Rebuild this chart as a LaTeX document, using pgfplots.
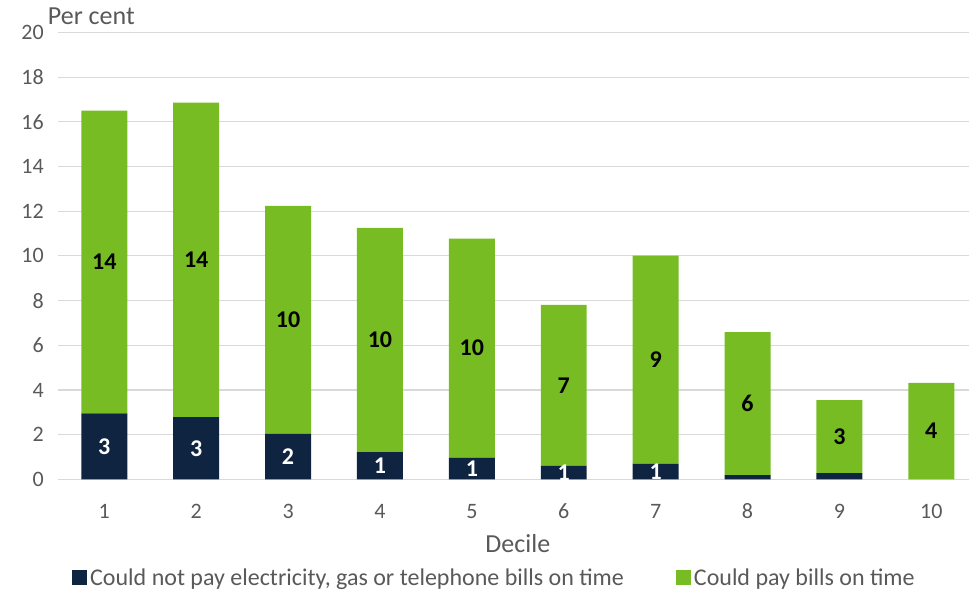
\documentclass[border=0pt]{standalone}
\usepackage{pgfplots}
\pgfplotsset{compat=1.18}
\usepackage{pgfplotstable}
\usepackage{fontspec}
\setmainfont{Carlito}

\definecolor{navy}{HTML}{0E2441}
\definecolor{leaf}{HTML}{78BC23}
\definecolor{gridgray}{HTML}{D9D9D9}
\definecolor{txtgray}{HTML}{595959}

% Share of households in each income decile (per cent)
\pgfplotstableread{
dec nopay pay
1  2.95 13.55
2  2.78 14.08
3  2.03 10.21
4  1.22 10.03
5  0.97  9.80
6  0.60  7.21
7  0.69  9.32
8  0.19  6.40
9  0.28  3.26
10 0.00  4.32
}\decile

% Rounded segment value; blank when it rounds to 0
\newcommand{\seglabel}{%
  \pgfmathfloattofixed{\pgfplotspointmeta}\let\v\pgfmathresult
  \pgfmathtruncatemacro\r{round(\v)}%
  \ifnum\r>0 \r\fi}

\begin{document}
\begin{tikzpicture}
\path[use as bounding box] (0,0) rectangle (969pt,591pt);
\begin{axis}[
  name=ax,
  at={(58.35pt,111.7pt)}, anchor=south west,
  scale only axis, width=918.9pt, height=446.8pt,
  xmin=0.5, xmax=10.5, ymin=0, ymax=20,
  ytick={0,2,...,20}, xtick={1,...,10},
  ymajorgrids, grid style={gridgray, line width=1.2pt},
  axis line style={draw=none},
  major tick length=0pt,
  /pgf/number format/assume math mode=true,
  tick label style={font=\fontsize{22}{26}\selectfont, text=txtgray},
  yticklabel style={anchor=east, inner sep=0pt, xshift=-14.5pt},
  xticklabel style={anchor=base, inner sep=0pt, yshift=-39.7pt},
  xlabel={Decile},
  xlabel style={font=\fontsize{26}{30}\selectfont, text=txtgray,
    at={(axis description cs:0.5,0)}, anchor=base, inner sep=0pt, yshift=-73pt},
  ybar stacked, bar width=0.5,
  clip marker paths=true,
  legend columns=2,
  legend cell align=left,
  legend image code/.code={\fill[#1] (0pt,-7pt) rectangle (15pt,8pt);},
  legend style={draw=none, fill=none, inner sep=0pt,
    at={(axis description cs:0.01486,-0.241)}, anchor=south west,
    font=\fontsize{24}{28}\selectfont, text=txtgray,
    nodes={inner sep=0pt},
    /tikz/every odd column/.append style={column sep=3pt},
    /tikz/every even column/.append style={column sep=52pt}},
  point meta=explicit,
  nodes near coords={\seglabel},
  nodes near coords style={font=\bfseries\fontsize{24}{28}\selectfont, anchor=center},
]
\addplot[fill=navy, draw=none, nodes near coords style={text=white}]
  table[x=dec, y=nopay, meta=nopay] {\decile};
\addlegendentry{Could not pay electricity, gas or telephone bills on time}
\addplot[fill=leaf, draw=none, nodes near coords style={text=black}]
  table[x=dec, y=pay, meta=pay] {\decile};
\addlegendentry{Could pay bills on time}
\end{axis}
\node[anchor=base west, inner sep=0pt, text=txtgray,
  font=\fontsize{26}{30}\selectfont] at (47.7pt,566pt) {Per cent};
\end{tikzpicture}
\end{document}
